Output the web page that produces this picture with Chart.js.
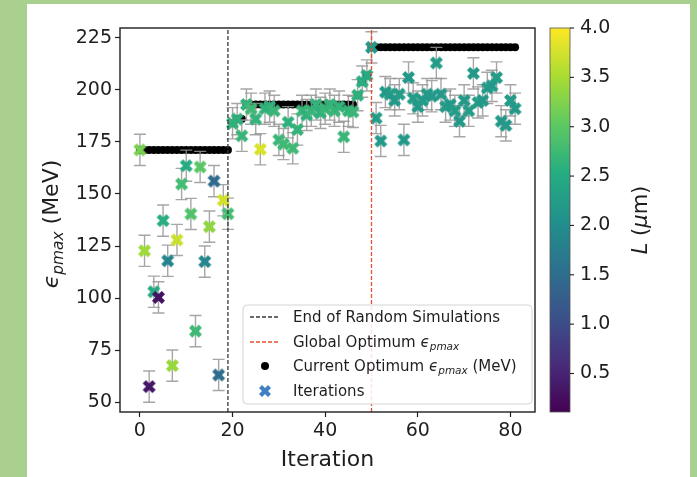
<!DOCTYPE html>
<html>
<head>
<meta charset="utf-8">
<script src="https://cdn.jsdelivr.net/npm/chart.js@4.4.1/dist/chart.umd.min.js"></script>
<style>
  html, body { margin: 0; padding: 0; background: #a9d08e; width: 697px; height: 477px; overflow: hidden; }
  #wrap { position: absolute; left: 27px; top: 4px; width: 663px; height: 473px; background: #fff; }
</style>
</head>
<body>
<div id="wrap"><canvas id="chart" width="663" height="473"></canvas></div>
<script>
    // values, iteration = index
    const EPS = [
        171.2, 122.7, 57.4, 103, 100.3, 137.2, 117.9, 67.5, 127.9, 154.8,
        163.6, 140.4, 84.1, 163, 117.5, 134.3, 156.2, 63, 147, 140.5,
        184, 186, 178, 193, 191, 186, 171.5, 191, 192, 190,
        176, 174, 184.5, 172, 181, 190, 188, 190, 193, 189,
        191, 193, 190, 192, 177.5, 190, 189.5, 197.5, 204, 207,
        220.5, 186.5, 175.5, 199, 198, 195, 198, 176, 206, 196,
        192, 195, 198, 197, 213, 198, 192, 193, 190, 185,
        195, 190, 208, 194, 195, 201, 202, 206, 185, 183,
        195, 191
    ];
    const L_UM = [
        3.2, 3.45, 0.35, 2.45, 0.3, 2.55, 1.85, 3.4, 3.7, 2.8,
        2.5, 2.9, 2.75, 3.0, 1.9, 3.35, 1.45, 1.5, 3.75, 2.8,
        2.65, 2.6, 2.7, 2.65, 2.75, 2.65, 3.8, 2.65, 2.6, 2.7,
        2.7, 2.75, 2.6, 2.75, 2.65, 2.7, 2.6, 2.7, 2.65, 2.6,
        2.7, 2.65, 2.7, 2.65, 2.7, 2.65, 2.7, 2.6, 2.55, 2.5,
        2.2, 2.25, 2.2, 2.2, 2.25, 2.2, 2.25, 2.2, 2.2, 2.25,
        2.2, 2.25, 2.2, 2.2, 2.25, 2.2, 2.25, 2.2, 2.25, 2.2,
        2.2, 2.25, 2.2, 2.25, 2.2, 2.25, 2.2, 2.25, 2.2, 2.2,
        2.25, 2.2
    ];
    const BEST = [
        171.2, 171.2, 171.2, 171.2, 171.2, 171.2, 171.2, 171.2, 171.2, 171.2,
        171.2, 171.2, 171.2, 171.2, 171.2, 171.2, 171.2, 171.2, 171.2, 171.2,
        184, 186, 186, 193, 193, 193, 193, 193, 193, 193,
        193, 193, 193, 193, 193, 193, 193, 193, 193, 193,
        193, 193, 193, 193, 193, 193, 193, 197.5, 204, 207,
        220.5, 220.5, 220.5, 220.5, 220.5, 220.5, 220.5, 220.5, 220.5, 220.5,
        220.5, 220.5, 220.5, 220.5, 220.5, 220.5, 220.5, 220.5, 220.5, 220.5,
        220.5, 220.5, 220.5, 220.5, 220.5, 220.5, 220.5, 220.5, 220.5, 220.5,
        220.5, 220.5
    ];
    const ERR = 7.5;
    const END_RANDOM = 19;
    const GLOBAL_OPT = 50;
    const X_TICKS = [0, 20, 40, 60, 80];
    const Y_TICKS = [50, 75, 100, 125, 150, 175, 200, 225];
    const CB_TICKS = [0.5, 1.0, 1.5, 2.0, 2.5, 3.0, 3.5, 4.0];
    const X_RANGE = [-4.3, 85.3];
    const Y_RANGE = [45.2, 229.8];
    const L_RANGE = [0.11, 4.0];

    const FONT = "'DejaVu Sans', sans-serif";
    const INK = '#1e1e1e';
    const RED = '#e2522c';
    const DARK_DASH = '#383838';

    // viridis stops
    const VIRIDIS = ['#440154', '#472c7a', '#3b528b', '#2c728e', '#21918c', '#27ad81', '#5ec962', '#aadc32', '#fde725'];

    function hexRgb(h) {
        return [parseInt(h.slice(1, 3), 16), parseInt(h.slice(3, 5), 16), parseInt(h.slice(5, 7), 16)];
    }

    function viridis(t) {
        t = Math.max(0, Math.min(1, t));
        const f = t * (VIRIDIS.length - 1);
        const i = Math.min(VIRIDIS.length - 2, Math.floor(f));
        const a = hexRgb(VIRIDIS[i]), b = hexRgb(VIRIDIS[i + 1]);
        const k = f - i;
        const c = a.map((v, j) => Math.round(v + (b[j] - v) * k));
        return `rgb(${c[0]},${c[1]},${c[2]})`;
    }

    // matplotlib filled 'X' marker outline (unit box)
    const X_PATH = [[-0.25, -0.5], [0, -0.25], [0.25, -0.5], [0.5, -0.25], [0.25, 0], [0.5, 0.25],
                    [0.25, 0.5], [0, 0.25], [-0.25, 0.5], [-0.5, 0.25], [-0.25, 0], [-0.5, -0.25]];

    function traceX(g, cx, cy, size) {
        g.beginPath();
        X_PATH.forEach(([px, py], k) => {
            if (k) g.lineTo(cx + px * size, cy + py * size);
            else g.moveTo(cx + px * size, cy + py * size);
        });
        g.closePath();
    }

    function xMarker(color, size) {
        const c = document.createElement('canvas');
        c.width = c.height = size + 2;
        const g = c.getContext('2d');
        traceX(g, (size + 2) / 2, (size + 2) / 2, size);
        g.fillStyle = color;
        g.fill();
        return c;
    }

    const markers = L_UM.map(v => xMarker(viridis((v - L_RANGE[0]) / (L_RANGE[1] - L_RANGE[0])), 13));

    // text with italic / subscript pieces
    function richWidth(g, parts, size) {
        let w = 0;
        parts.forEach(p => {
            g.font = `${p.it ? 'italic ' : ''}${p.sub ? size * 0.7 : size}px ${FONT}`;
            w += g.measureText(p.t).width;
        });
        return w;
    }

    function drawRich(g, parts, x, y, size) {
        parts.forEach(p => {
            g.font = `${p.it ? 'italic ' : ''}${p.sub ? size * 0.7 : size}px ${FONT}`;
            g.fillText(p.t, x, p.sub ? y + size * 0.22 : y);
            x += g.measureText(p.t).width;
        });
    }

    const EPS_LABEL = [{ t: 'ϵ', it: true }, { t: 'pmax', it: true, sub: true }];

    const decor = {
        id: 'decor',
        beforeDatasetDraw(chart, args) {
            if (args.meta.label !== 'Iterations') return;
            const xs = chart.scales.x, ys = chart.scales.y, g = chart.ctx;
            g.save();
            g.strokeStyle = 'rgba(150,150,150,0.85)';
            g.lineWidth = 1.4;
            EPS.forEach((v, i) => {
                const x = xs.getPixelForValue(i);
                const y1 = ys.getPixelForValue(v + ERR);
                const y2 = ys.getPixelForValue(v - ERR);
                g.beginPath();
                g.moveTo(x, y1); g.lineTo(x, y2);
                g.moveTo(x - 6, y1); g.lineTo(x + 6, y1);
                g.moveTo(x - 6, y2); g.lineTo(x + 6, y2);
                g.stroke();
            });
            g.restore();
        },
        afterDraw(chart) {
            const g = chart.ctx, a = chart.chartArea, cb = chart.scales.cb;
            g.save();

            // axes frame
            g.strokeStyle = INK;
            g.lineWidth = 1.4;
            g.strokeRect(a.left, a.top, a.right - a.left, a.bottom - a.top);

            // colour bar
            const cx0 = a.right + 15, cw = 20;
            const yTop = cb.getPixelForValue(L_RANGE[1]);
            const yBot = cb.getPixelForValue(L_RANGE[0]);
            const grad = g.createLinearGradient(0, yBot, 0, yTop);
            VIRIDIS.forEach((c, i) => grad.addColorStop(i / (VIRIDIS.length - 1), c));
            g.fillStyle = grad;
            g.fillRect(cx0, yTop, cw, yBot - yTop);
            g.lineWidth = 0.8;
            g.strokeStyle = '#555';
            g.strokeRect(cx0, yTop, cw, yBot - yTop);
            g.lineWidth = 1.1;
            g.strokeStyle = INK;
            CB_TICKS.forEach(v => {
                const y = cb.getPixelForValue(v);
                g.beginPath();
                g.moveTo(cx0 + cw, y); g.lineTo(cx0 + cw + 4, y);
                g.stroke();
            });

            g.fillStyle = INK;
            g.textBaseline = 'alphabetic';

            // colour bar label, reading bottom to top
            const cbParts = [{ t: 'L', it: true }, { t: ' (' }, { t: 'μ', it: true }, { t: 'm)' }];
            g.save();
            g.translate(612, (yTop + yBot) / 2);
            g.rotate(-Math.PI / 2);
            drawRich(g, cbParts, -richWidth(g, cbParts, 21) / 2, 8, 21);
            g.restore();

            // y axis label
            const yParts = [...EPS_LABEL, { t: ' (MeV)' }];
            g.save();
            g.translate(23, (a.top + a.bottom) / 2 + 4);
            g.rotate(-Math.PI / 2);
            drawRich(g, yParts, -richWidth(g, yParts, 22) / 2, 8, 22);
            g.restore();

            // x axis label
            g.font = `22px ${FONT}`;
            g.textAlign = 'center';
            g.fillText('Iteration', (a.left + a.right) / 2, 462);
            g.textAlign = 'left';

            // legend
            const lx = 216, ly = 301, lw = 289, lh = 99;
            g.beginPath();
            g.roundRect(lx, ly, lw, lh, 4);
            g.fillStyle = 'rgba(255,255,255,0.85)';
            g.fill();
            g.strokeStyle = '#d4d4d4';
            g.lineWidth = 1;
            g.stroke();

            const rows = [313, 338, 362, 387];
            const hx0 = lx + 7, hx1 = lx + 37, tx = lx + 50;
            g.lineWidth = 1.3;
            g.setLineDash([4, 2]);
            g.strokeStyle = DARK_DASH;
            g.beginPath(); g.moveTo(hx0, rows[0]); g.lineTo(hx1, rows[0]); g.stroke();
            g.strokeStyle = RED;
            g.beginPath(); g.moveTo(hx0, rows[1]); g.lineTo(hx1, rows[1]); g.stroke();
            g.setLineDash([]);
            g.fillStyle = '#000';
            g.beginPath(); g.arc((hx0 + hx1) / 2, rows[2], 4, 0, Math.PI * 2); g.fill();
            traceX(g, (hx0 + hx1) / 2, rows[3], 12);
            g.fillStyle = '#3f7fc4';
            g.fill();

            g.fillStyle = INK;
            const fs = 15;
            drawRich(g, [{ t: 'End of Random Simulations' }], tx, rows[0] + 5, fs);
            drawRich(g, [{ t: 'Global Optimum ' }, ...EPS_LABEL], tx, rows[1] + 5, fs);
            drawRich(g, [{ t: 'Current Optimum ' }, ...EPS_LABEL, { t: ' (MeV)' }], tx, rows[2] + 5, fs);
            drawRich(g, [{ t: 'Iterations' }], tx, rows[3] + 5, fs);

            g.restore();
        }
    };

    const tickFont = { family: FONT, size: 19 };

    new Chart(document.getElementById('chart'), {
        type: 'scatter',
        data: {
            datasets: [
                {
                    type: 'line',
                    label: 'End of Random Simulations',
                    data: [{ x: END_RANDOM, y: Y_RANGE[0] }, { x: END_RANDOM, y: Y_RANGE[1] }],
                    borderColor: DARK_DASH,
                    borderWidth: 1.3,
                    borderDash: [4, 2],
                    pointRadius: 0,
                    order: 0
                },
                {
                    type: 'line',
                    label: 'Global Optimum',
                    data: [{ x: GLOBAL_OPT, y: Y_RANGE[0] }, { x: GLOBAL_OPT, y: Y_RANGE[1] }],
                    borderColor: RED,
                    borderWidth: 1.3,
                    borderDash: [4, 2],
                    pointRadius: 0,
                    order: 0
                },
                {
                    label: 'Iterations',
                    data: EPS.map((v, i) => ({ x: i, y: v })),
                    pointStyle: markers,
                    order: 1
                },
                {
                    label: 'Current Optimum',
                    data: BEST.map((v, i) => ({ x: i, y: v })),
                    pointRadius: 4,
                    pointBackgroundColor: '#000',
                    pointBorderWidth: 0,
                    order: 2
                }
            ]
        },
        options: {
            responsive: false,
            animation: false,
            events: [],
            layout: { padding: { top: 24, left: 0, right: 0, bottom: 0 } },
            plugins: { legend: { display: false }, tooltip: { enabled: false } },
            scales: {
                x: {
                    type: 'linear',
                    position: 'bottom',
                    min: X_RANGE[0],
                    max: X_RANGE[1],
                    afterBuildTicks: s => { s.ticks = X_TICKS.map(v => ({ value: v })); },
                    afterFit: s => { s.height = 65; },
                    grid: { drawOnChartArea: false, tickLength: 5, tickColor: INK, tickWidth: 1.2 },
                    border: { display: false },
                    ticks: { font: tickFont, color: INK, padding: 3, maxRotation: 0 }
                },
                y: {
                    type: 'linear',
                    position: 'left',
                    min: Y_RANGE[0],
                    max: Y_RANGE[1],
                    afterBuildTicks: s => { s.ticks = Y_TICKS.map(v => ({ value: v })); },
                    afterFit: s => { s.width = 93; },
                    grid: { drawOnChartArea: false, tickLength: 5, tickColor: INK, tickWidth: 1.2 },
                    border: { display: false },
                    ticks: { font: tickFont, color: INK, padding: 3 }
                },
                cb: {
                    type: 'linear',
                    position: 'right',
                    min: L_RANGE[0],
                    max: L_RANGE[1],
                    afterBuildTicks: s => { s.ticks = CB_TICKS.map(v => ({ value: v })); },
                    afterFit: s => { s.width = 155; },
                    // invisible long tick marks push the labels past the colour bar
                    grid: { drawOnChartArea: false, tickLength: 41, tickColor: 'rgba(0,0,0,0)' },
                    border: { display: false },
                    ticks: { font: tickFont, color: INK, padding: 4, callback: v => v.toFixed(1) }
                }
            }
        },
        plugins: [decor]
    });
</script>
</body>
</html>
